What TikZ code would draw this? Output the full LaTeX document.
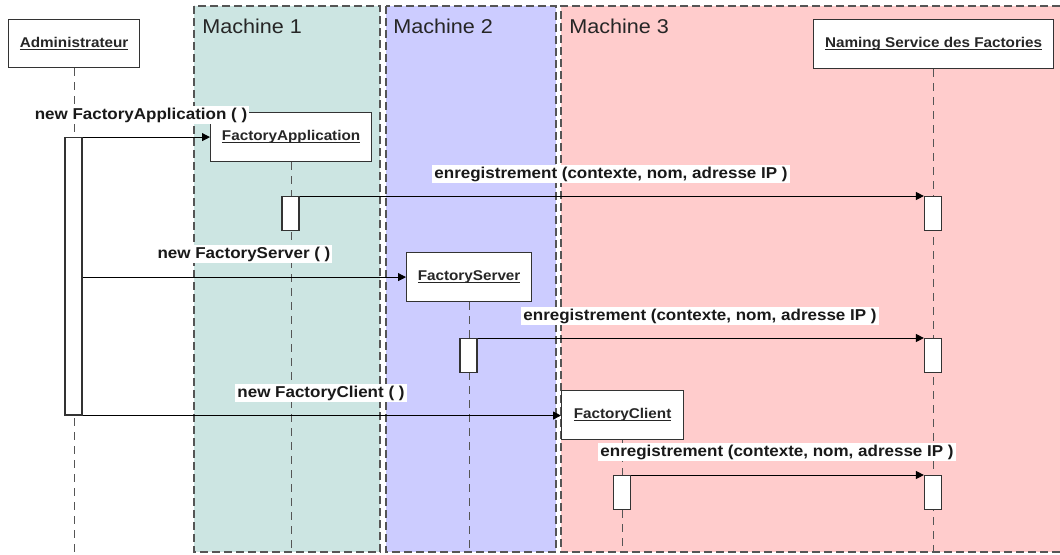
\documentclass[tikz,border=0pt]{standalone}
\usepackage{fontspec}
\setmainfont{Liberation Sans}[FakeStretch=1.08]
\usepackage{tikz}
\usetikzlibrary{arrows.meta}

\definecolor{machOne}{RGB}{204,229,226}
\definecolor{machTwo}{RGB}{204,204,255}
\definecolor{machThree}{RGB}{255,204,204}
\definecolor{edgegray}{RGB}{85,85,85}

% underlined object name, rule just under the baseline
\newcommand{\objname}[1]{\setbox0\hbox{#1}\rlap{\rule[-1.6pt]{\wd0}{0.8pt}}\box0}

\tikzset{
  machine/.style={draw=edgegray, line width=1.1pt, dash pattern={on 6pt off 3pt}},
  machlabel/.style={anchor=north west, inner sep=0pt, text=black!85, font=\fontsize{15}{17}\selectfont},
  objbox/.style={draw=black!80, fill=white, line width=0.9pt, anchor=north west, inner sep=0pt, minimum height=36.75pt, text=black!85, font=\fontsize{10.6}{12}\selectfont\bfseries},
  actbar/.style={draw=black!80, fill=white, line width=0.9pt, anchor=north, inner sep=0pt, minimum width=12.75pt, minimum height=25.5pt},
  lifeline/.style={draw=edgegray, line width=0.9pt, dash pattern={on 6pt off 4.5pt}},
  msg/.style={draw=black, line width=0.75pt, -{Triangle[length=6pt,width=6pt]}},
  msglabel/.style={fill=white, inner sep=1.5pt, text=black!90, font=\fontsize{11.8}{13}\selectfont\bfseries}
}

\begin{document}
\begin{tikzpicture}[x=0.75pt,y=0.75pt,yscale=-1,xscale=1]
\useasboundingbox (0,0) rectangle (1060,554);
\coordinate (bottom) at (0,552);

%Shape: Machines
\fill [machOne] (194,6) rectangle (380,552);
\draw [machine] (194,6) rectangle (380,552);
\fill [machTwo] (386,6) rectangle (556,552);
\draw [machine] (386,6) rectangle (556,552);
\fill [machThree] (561,6) rectangle (1060,552);
\draw [machine] (1060,6) -- (561,6) -- (561,552) -- (1060,552);

% Text Node
\node [machlabel] (mach1) at (202,19) {Machine 1};
% Text Node
\node [machlabel] (mach2) at (393,19) {Machine 2};
% Text Node
\node [machlabel] (mach3) at (569,19) {Machine 3};

%Shape: Objects
\node [objbox, minimum width=98.25pt, minimum height=36pt] (admin) at (8,19) {\objname{Administrateur}};
\node [objbox, minimum width=180pt] (naming) at (813,19) {\objname{Naming Service des Factories}};
\node [objbox, minimum width=120.75pt] (fapp) at (210,112) {\objname{FactoryApplication}};
\node [objbox, minimum width=93.75pt] (fsrv) at (406,252) {\objname{FactoryServer}};
\node [objbox, minimum width=91.5pt] (fcli) at (561,390) {\objname{FactoryClient}};

%Straight Lines: lifelines
\draw [lifeline] (admin.south) -- (admin.south |- bottom);
\draw [lifeline] (naming.south) -- (naming.south |- bottom);
\draw [lifeline] (fapp.south) -- (fapp.south |- bottom);
\draw [lifeline] (fsrv.south) -- (fsrv.south |- bottom);
\draw [lifeline] (fcli.south) -- (fcli.south |- bottom);

%Shape: Activations
\node [actbar, minimum height=208pt] (adminact) at (73.5,137) {};
\node [actbar] (fappact) at (290.5,196) {};
\node [actbar] (fsrvact) at (468.5,338) {};
\node [actbar] (fcliact) at (622,475) {};
\node [actbar] (namingactA) at (933,196) {};
\node [actbar] (namingactB) at (933,338) {};
\node [actbar] (namingactC) at (933,475) {};

%Straight Lines: messages
\draw [msg] (adminact.east |- fapp.west) -- (fapp.west);
\draw [msg] (fappact.north east) -- (namingactA.north west);
\draw [msg] (adminact.east |- fsrv.west) -- (fsrv.west);
\draw [msg] (fsrvact.north east) -- (namingactB.north west);
\draw [msg] (adminact.south east) -- (fcli.west |- adminact.south east);
\draw [msg] (fcliact.north east) -- (namingactC.north west);

% Text Node
\node [msglabel] (newfapp) at (141,115) {new FactoryApplication ( )};
% Text Node
\node [msglabel] (regA) at (611,174) {enregistrement (contexte, nom, adresse IP )};
% Text Node
\node [msglabel] (newfsrv) at (244,254) {new FactoryServer ( )};
% Text Node
\node [msglabel] (regB) at (700,316) {enregistrement (contexte, nom, adresse IP )};
% Text Node
\node [msglabel] (newfcli) at (321,393) {new FactoryClient ( )};
% Text Node
\node [msglabel] (regC) at (777,452) {enregistrement (contexte, nom, adresse IP )};
\end{tikzpicture}
\end{document}
